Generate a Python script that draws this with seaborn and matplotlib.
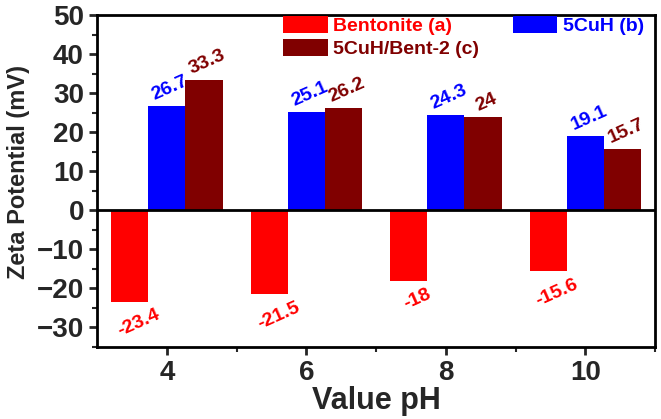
import pandas as pd
import seaborn as sns
import matplotlib.pyplot as plt

ph = [4, 6, 8, 10]
bentonite = [-23.4, -21.5, -18, -15.6]
cuh = [26.7, 25.1, 24.3, 19.1]
cuh_bent = [33.3, 26.2, 24, 15.7]
series = ['Bentonite (a)', '5CuH (b)', '5CuH/Bent-2 (c)']
colors = ['#FF0000', '#0000FF', '#800000']
label_text = [['-23.4', '-21.5', '-18', '-15.6'],
              ['26.7', '25.1', '24.3', '19.1'],
              ['33.3', '26.2', '24', '15.7']]

df = pd.DataFrame({
    'pH': ph * 3,
    'zeta': bentonite + cuh + cuh_bent,
    'sample': [s for s in series for _ in ph],
})

sns.set_style('ticks')
plt.rcParams['font.family'] = ['Liberation Sans', 'DejaVu Sans']
plt.rcParams['font.weight'] = 'bold'

fig = plt.figure(figsize=(6.61, 4.19), dpi=100)
ax = fig.add_axes([0.147, 0.172, 0.844, 0.792])
sns.barplot(data=df, x='pH', y='zeta', hue='sample', hue_order=series,
            palette=colors, native_scale=True, width=0.8, saturation=1,
            edgecolor='none', linewidth=0, errorbar=None, ax=ax)

# value labels, rotated, in the series colour
for cont, col, texts in zip(ax.containers, colors, label_text):
    for bar, t in zip(cont, texts):
        cx = bar.get_x() + bar.get_width() / 2
        top = bar.get_y() + bar.get_height()
        low = min(bar.get_y(), top)
        high = max(bar.get_y(), top)
        if low < 0:
            ax.text(cx + 0.13, low - 1.2, t, color=col, rotation=24, ha='center', va='top',
                    fontsize=14, fontweight='bold')
        else:
            ax.text(cx + 0.05, high + 0.6, t, color=col, rotation=24, ha='center', va='bottom',
                    fontsize=14, fontweight='bold')

ax.axhline(0, color='black', lw=2)
ax.set_xlim(3, 11)
ax.set_ylim(-35, 50)
ax.set_xticks([4, 6, 8, 10])
ax.set_xticks([5, 7, 9, 11], minor=True)
ax.set_yticks([-30, -20, -10, 0, 10, 20, 30, 40, 50])
ax.set_yticks([-35, -25, -15, -5, 5, 15, 25, 35, 45], minor=True)
ax.tick_params(axis='both', which='major', labelsize=20, width=2, length=6, direction='out')
ax.tick_params(axis='both', which='minor', width=1.5, length=3.5, direction='out')
for lab in ax.get_xticklabels() + ax.get_yticklabels():
    lab.set_fontweight('bold')
for sp in ax.spines.values():
    sp.set_visible(True)
    sp.set_linewidth(2)
    sp.set_color('black')

ax.set_xlabel('Value pH', fontsize=22, fontweight='bold', labelpad=0)
ax.set_ylabel('Zeta Potential (mV)', fontsize=17, fontweight='bold', labelpad=1)
ax.yaxis.set_label_coords(-0.12, 0.527)

handles, labels = ax.get_legend_handles_labels()
order = [0, 2, 1]
leg = ax.legend([handles[i] for i in order], [labels[i] for i in order], ncol=2,
                loc='upper left', bbox_to_anchor=(0.333, 0.998), frameon=False,
                handlelength=2.3, handleheight=1.0, columnspacing=1.7,
                labelspacing=0.2, handletextpad=0.3, borderaxespad=0, borderpad=0,
                prop={'weight': 'bold', 'size': 14})
for txt, i in zip(leg.get_texts(), order):
    txt.set_color(colors[i])

plt.savefig('out.png', dpi=100)
